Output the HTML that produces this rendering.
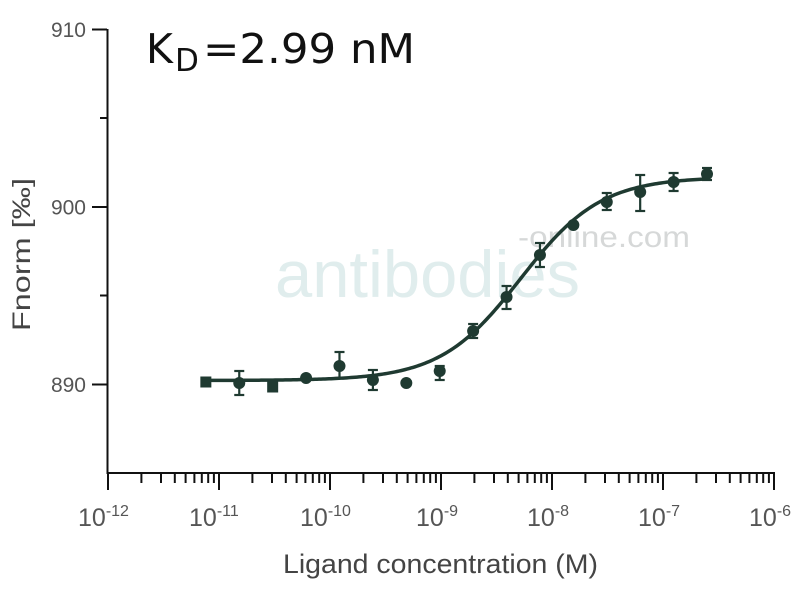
<!DOCTYPE html>
<html>
<head>
<meta charset="utf-8">
<style>
html,body{margin:0;padding:0;background:#fff;}
svg{display:block;}
</style>
</head>
<body>
<svg width="800" height="600" viewBox="0 0 800 600" xmlns="http://www.w3.org/2000/svg">
<rect width="800" height="600" fill="#fff"/>
<!-- watermark -->
<text x="275" y="297" font-family="Liberation Sans, sans-serif" font-size="66" fill="#e0eded" textLength="305" lengthAdjust="spacingAndGlyphs">antibodies</text>
<text x="518" y="247" font-family="Liberation Sans, sans-serif" font-size="30" fill="#d6d8d8" textLength="172" lengthAdjust="spacingAndGlyphs">-online.com</text>

<!-- axes -->
<g stroke="#111" stroke-width="2" fill="none">
<line x1="107.5" y1="29" x2="107.5" y2="474"/>
<line x1="107" y1="473" x2="775" y2="473"/>
<!-- y ticks -->
<line x1="92" y1="29.5" x2="107" y2="29.5"/>
<line x1="100" y1="118" x2="107" y2="118"/>
<line x1="92" y1="207" x2="107" y2="207"/>
<line x1="100" y1="295.5" x2="107" y2="295.5"/>
<line x1="92" y1="384.5" x2="107" y2="384.5"/>
</g>
<g id="xt" stroke="#111" stroke-width="2"></g>

<!-- y tick labels -->
<g font-family="Liberation Sans, sans-serif" font-size="21" fill="#555" text-anchor="end">
<text x="86" y="37">910</text>
<text x="86" y="214.5">900</text>
<text x="86" y="392">890</text>
</g>

<!-- x tick labels -->
<g font-family="Liberation Sans, sans-serif" fill="#555">
<text x="78" y="526" font-size="25">10<tspan font-size="16" dy="-10">-12</tspan></text>
<text x="189" y="526" font-size="25">10<tspan font-size="16" dy="-10">-11</tspan></text>
<text x="300" y="526" font-size="25">10<tspan font-size="16" dy="-10">-10</tspan></text>
<text x="416" y="526" font-size="25">10<tspan font-size="16" dy="-10">-9</tspan></text>
<text x="527" y="526" font-size="25">10<tspan font-size="16" dy="-10">-8</tspan></text>
<text x="638" y="526" font-size="25">10<tspan font-size="16" dy="-10">-7</tspan></text>
<text x="749" y="526" font-size="25">10<tspan font-size="16" dy="-10">-6</tspan></text>
</g>

<!-- axis titles -->
<text x="283" y="573" font-family="Liberation Sans, sans-serif" font-size="27" fill="#444" textLength="315" lengthAdjust="spacingAndGlyphs">Ligand concentration (M)</text>
<text transform="translate(30,331) rotate(-90)" font-family="Liberation Sans, DejaVu Sans, sans-serif" font-size="25" fill="#444" textLength="153" lengthAdjust="spacingAndGlyphs">Fnorm [‰]</text>

<!-- KD title -->
<text x="146" y="63" font-family="DejaVu Sans, sans-serif" font-size="41" fill="#111">K</text>
<text x="175" y="71" font-family="DejaVu Sans, sans-serif" font-size="31" fill="#111">D</text>
<text x="203" y="63" font-family="DejaVu Sans, sans-serif" font-size="41" fill="#111" textLength="212" lengthAdjust="spacingAndGlyphs">=2.99 nM</text>

<g id="curve"></g>
<g id="pts"></g>

<script>
(function(){
  var ns="http://www.w3.org/2000/svg";
  var xt=document.getElementById("xt");
  function line(p,x1,y1,x2,y2,col,w){
    var l=document.createElementNS(ns,"line");
    l.setAttribute("x1",x1);l.setAttribute("y1",y1);l.setAttribute("x2",x2);l.setAttribute("y2",y2);
    if(col){l.setAttribute("stroke",col);}
    if(w){l.setAttribute("stroke-width",w);}
    p.appendChild(l);
  }
  for(var k=0;k<=6;k++){
    var x0=108+k*111;
    line(xt,x0,473,x0,490);
    if(k<6){
      for(var m=2;m<=9;m++){
        var x=x0+Math.log10(m)*111;
        line(xt,x.toFixed(1),473,x.toFixed(1),483);
      }
    }
  }
  // curve
  var bottom=380.5, top=177, rng=bottom-top;
  function fy(x){var f=1/(1+Math.pow(10,-(x-520.5)*1.2/111));return bottom-f*rng;}
  var d="";
  for(var x=205;x<=708;x+=2){d+=(x===205?"M":"L")+x+" "+fy(x).toFixed(2)+" ";}
  var p=document.createElementNS(ns,"path");
  p.setAttribute("d",d);p.setAttribute("fill","none");p.setAttribute("stroke","#1f3a31");p.setAttribute("stroke-width","3.5");
  document.getElementById("curve").appendChild(p);
  // points
  var col="#1f3a31";
  var pts=[
    [382,null,null,"s"],[383,371,395],[387,null,null,"s"],[378,null,null],[366,352,378],
    [380,370,390],[383,null,null],[371,366,380],[331,324,338],[297,286,309],
    [255,243,267],[225,null,null],[202,193,210],[192,175,211],[182,173,191],[174,168,180]
  ];
  var g=document.getElementById("pts");
  for(var i=0;i<16;i++){
    var px=707-(15-i)*33.41, q=pts[i];
    if(q[1]!==null){
      line(g,px,q[1],px,q[2],col,2.2);
      line(g,px-5,q[1],px+5,q[1],col,2.2);
      line(g,px-5,q[2],px+5,q[2],col,2.2);
    }
    var s;
    if(q[3]==="s"){
      s=document.createElementNS(ns,"rect");
      s.setAttribute("x",px-5.5);s.setAttribute("y",q[0]-5.5);s.setAttribute("width",11);s.setAttribute("height",11);
    } else {
      s=document.createElementNS(ns,"circle");
      s.setAttribute("cx",px);s.setAttribute("cy",q[0]);s.setAttribute("r",6);
    }
    s.setAttribute("fill",col);
    g.appendChild(s);
  }
})();
</script>
</svg>
</body>
</html>
